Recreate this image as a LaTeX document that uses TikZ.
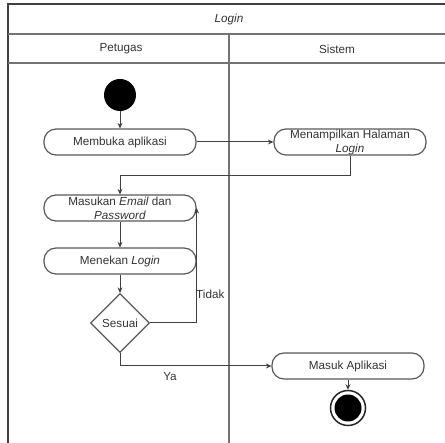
\documentclass[tikz,border=0pt]{standalone}
\usepackage{fontspec}
\setmainfont{Liberation Sans}
\usetikzlibrary{shapes.geometric,arrows.meta}

\begin{document}
\begin{tikzpicture}[x=1pt,y=-1pt,
  every node/.style={text=black!80, font=\fontsize{11.7}{14}\selectfont},
  frameline/.style={draw=black!75, line width=1.2pt},
  laneline/.style={draw=black!55, line width=1.1pt},
  act/.style={draw=black!65, line width=1.2pt, rounded corners=12pt, fill=white,
    minimum width=152pt, minimum height=26pt, inner sep=0pt, align=center},
  decision/.style={diamond, draw=black!65, line width=1.2pt, fill=white,
    minimum width=59pt, minimum height=59pt, inner sep=0pt},
  flow/.style={draw=black!75, line width=1pt, -{Stealth[length=5.5pt,width=5pt]}},
  lbl/.style={inner sep=0pt}]
\useasboundingbox (0,0) rectangle (445,443);

% swimlane frame
\draw[frameline] (445,4) -- (8,4) -- (8,443);
\draw[laneline] (8,34) -- (445,34);
\draw[laneline] (8,63) -- (445,63);
\draw[laneline] (229,34) -- (229,443);
\node[lbl] (title) at (229,19) {\itshape Login};
\node[lbl] (petugas) at (121,49) {Petugas};
\node[lbl] (sistem) at (337,49) {Sistem};

% start and end states
\node[circle, fill=black, minimum size=32pt, inner sep=0pt] (start) at (120,95) {};
\node[circle, draw=black!85, line width=1.5pt, fill=white, minimum size=35pt, inner sep=0pt] (end) at (348,408) {};
\node[circle, fill=black, minimum size=27pt, inner sep=0pt] (endcore) at (end.center) {};

% activities
\node[act] (membuka) at (120,142) {Membuka aplikasi};
\node[act] (tampil) at (350,142) {Menampilkan Halaman\\\textit{Login}};
\node[act] (masukan) at (120,208) {Masukan \textit{Email} dan\\\textit{Password}};
\node[act] (menekan) at (120,261) {Menekan \textit{Login}};
\node[decision] (sesuai) at (120,323) {Sesuai};
\node[act] (masuk) at (348,366) {Masuk Aplikasi};

% transitions
\draw[flow] (start) -- (membuka);
\draw[flow] (membuka.east) -- (tampil.west);
\draw[flow] (tampil.south) -- ++(0,20) -| (masukan.north);
\draw[flow] (masukan) -- (menekan);
\draw[flow] (menekan) -- (sesuai);
\draw[flow] (sesuai.east) -| (masukan.east);
\draw[flow] (sesuai.south) |- (masuk.west);
\draw[flow] (masuk) -- (end);

% guard labels
\node[lbl, anchor=west] (tidak) at (196,294) {Tidak};
\node[lbl] (ya) at (170,377) {Ya};
\end{tikzpicture}
\end{document}
